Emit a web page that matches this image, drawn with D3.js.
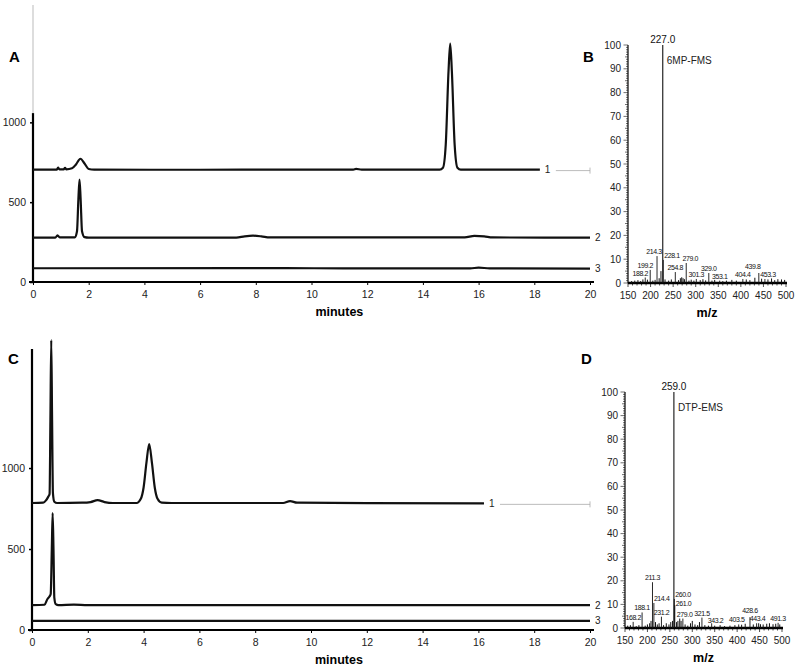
<!DOCTYPE html>
<html>
<head>
<meta charset="utf-8">
<script src="https://cdn.jsdelivr.net/npm/d3@7"></script>
<style>
  body { margin: 0; background: #fff; }
  text { font-family: "Liberation Sans", Arial, Helvetica, sans-serif; }
  .small { font-family: "Liberation Sans Narrow", "Liberation Sans", Arial, sans-serif; }
</style>
</head>
<body>
<svg id="fig" width="800" height="670"></svg>
<script>
// ---- chromatogram data: [minutes, response] ----
var timeTicks = d3.range(0, 21, 2);
var respTicks = [0, 500, 1000];

var traceA1 = [[0,704],[0.85,704],[0.9,716],[0.95,705],[1.1,706],[1.15,715],[1.2,706],[1.4,712],[1.55,738],[1.7,772],[1.85,742],[2.0,708],[2.2,704],
  [6,703],[9,704],[11.5,704],[11.6,709],[11.8,704],[14.6,704],[14.72,716],[14.82,860],[14.92,1320],[14.98,1494],[15.04,1320],[15.14,860],[15.24,716],[15.36,704],[18.2,704]];
var traceA2 = [[0,278],[0.8,278],[0.88,292],[0.96,279],[1.5,280],[1.58,318],[1.63,520],[1.67,642],[1.71,520],[1.76,318],[1.85,281],[2.0,278],
  [7.3,278],[7.6,286],[7.9,290],[8.2,286],[8.5,279],[15.5,280],[15.85,289],[16.2,286],[16.5,279],[20,278]];
var traceA3 = [[0,86],[7.5,87],[8.2,87],[12,85],[15.7,85],[16,90],[16.4,85],[20,84]];

var traceC1 = [[0,784],[0.4,786],[0.5,800],[0.58,822],[0.63,840],[0.66,1300],[0.69,1790],[0.72,1300],[0.75,845],[0.8,792],[0.9,784],
  [1.8,786],[2.1,790],[2.35,802],[2.6,790],[2.9,784],[3.75,784],[3.9,810],[4.0,880],[4.1,1030],[4.2,1148],[4.3,1030],[4.4,880],[4.5,810],[4.65,786],
  [5,784],[9.0,784],[9.25,796],[9.5,786],[12,783],[16.2,782]];
var traceC2 = [[0,154],[0.45,156],[0.55,190],[0.62,205],[0.67,222],[0.71,500],[0.74,722],[0.77,500],[0.8,200],[0.85,160],[0.95,154],[1.5,157],[2,154],[20,154]];
var traceC3 = [[0,56],[20,56]];

// ---- mass spectra: labelled peaks [m/z, rel. intensity] ----
var mzTicks = d3.range(150, 501, 50);
var intensityTicks = d3.range(0, 101, 10);

var peaksB = [[227.0,100],[214.3,11.3],[228.1,9.7],[199.2,5.5],[188.2,2.3],[254.8,4.6],[279.0,8.4],[301.3,1.7],[329.0,4.2],[353.1,1.0],[404.4,1.7],[439.8,4.2],[453.3,1.7]];
var noiseB = [[158,0.8],[165,1],[172,1.2],[178,0.8],[183,1.5],[193,1.4],[205,1],[210,1.3],[219,2],[223,5],[232,1.5],[240,1],[246,1.5],[262,1.2],[266,2],[269,2.4],[272,2],[275,1.6],
  [285,1],[290,1.4],[296,1],[310,1.2],[316,1.6],[322,1.1],[336,1],[342,1.3],[360,0.8],[368,1],[380,1.3],[390,1],[412,1.5],[420,1.2],[431,2.2],[446,1.8],[460,1.5],[468,1.9],[475,1.2],[482,1.6],[490,1.5],[497,1.3]];

var peaksD = [[259.0,100],[211.3,19.4],[214.4,10.6],[231.2,4.8],[188.1,6.6],[168.2,2.6],[260.0,12.3],[261.0,9.7],[279.0,4],[321.5,4.4],[343.2,2],[403.5,1.5],[428.6,4.6],[443.4,2],[491.3,2.2]];
var noiseD = [[156,1],[162,1.2],[175,0.8],[181,1.2],[195,1],[200,1.5],[205,2],[208,3],[218,2.5],[222,1.5],[226,2],[236,1.2],[242,2],[248,1.5],[252,2.5],[256,3],[265,2.5],[268,3],[272,4],[275,3],[284,1.5],
  [290,1],[296,2],[300,3],[306,1.5],[312,1.2],[316,2.5],[328,1.2],[336,1],[350,1],[362,1.2],[372,0.8],[384,1],[395,1.2],[410,1.4],[418,1.8],[436,1.5],[448,2],[452,1.6],[458,1.5],[466,1.8],[472,2],[480,1.6],[486,1.8],[495,1.5]];

var svg = d3.select("#fig");

function drawChrom(opt) {
  var x = d3.scaleLinear().domain([0, 20]).range(opt.xr);
  var y = d3.scaleLinear().domain([0, 1735]).range(opt.yr);
  var g = svg.append("g");

  // y axis
  var ya = g.append("g").attr("transform", "translate(" + x(0) + ",0)")
    .call(d3.axisLeft(y).tickValues(respTicks).tickFormat(d3.format("d")).tickSize(3).tickPadding(4));
  ya.select(".domain").remove();
  ya.selectAll("text").attr("font-size", 10.5).attr("fill", "#222");
  ya.selectAll("line").attr("stroke-width", 1.5);
  g.append("line").attr("x1", x(0)).attr("x2", x(0)).attr("y1", y(0)).attr("y2", y(opt.axisTop))
    .attr("stroke", "#000").attr("stroke-width", 2.2);
  if (opt.axisTop < 1735)
    g.append("line").attr("x1", x(0)).attr("x2", x(0)).attr("y1", y(opt.axisTop)).attr("y2", y(1735))
      .attr("stroke", "#bbb").attr("stroke-width", 1);

  // x axis
  var xa = g.append("g").attr("transform", "translate(0," + y(0) + ")")
    .call(d3.axisBottom(x).tickValues(timeTicks).tickSize(3).tickPadding(6));
  xa.select(".domain").remove();
  xa.selectAll("text").attr("font-size", 10.5).attr("fill", "#222");
  g.append("line").attr("x1", x(0) - 4).attr("x2", x(20) + 4).attr("y1", y(0)).attr("y2", y(0))
    .attr("stroke", "#000").attr("stroke-width", 2.2);

  g.append("text").attr("x", (x(10) + x(12)) / 2).attr("y", y(0) + 34).attr("text-anchor", "middle")
    .attr("font-weight", "bold").attr("font-size", 12.5).text("minutes");
  g.append("text").attr("x", opt.letterX).attr("y", opt.letterY).attr("font-weight", "bold")
    .attr("font-size", 15).text(opt.letter);

  var line = d3.line().x(function(d) { return x(d[0]); }).y(function(d) { return y(d[1]); })
    .curve(d3.curveMonotoneX);

  opt.traces.forEach(function(tr, i) {
    g.append("path").attr("d", line(tr)).attr("fill", "none").attr("stroke", "#111")
      .attr("stroke-width", 2.2).attr("stroke-linejoin", "round");
    var last = tr[tr.length - 1];
    g.append("text").attr("x", x(last[0]) + 5).attr("y", y(last[1]) + 3.5)
      .attr("font-size", 10).attr("fill", "#222").text(i + 1);
    if (last[0] < 20) {
      g.append("line").attr("x1", x(last[0]) + 16).attr("x2", x(20)).attr("y1", y(last[1]) + 1).attr("y2", y(last[1]) + 1)
        .attr("stroke", "#aaa").attr("stroke-width", 0.8);
      g.append("line").attr("x1", x(20)).attr("x2", x(20)).attr("y1", y(last[1]) - 2).attr("y2", y(last[1]) + 4)
        .attr("stroke", "#aaa").attr("stroke-width", 0.8);
    }
  });
}

function drawSpec(opt) {
  var x = d3.scaleLinear().domain([150, 500]).range(opt.xr);
  var y = d3.scaleLinear().domain([0, 100]).range(opt.yr);
  var g = svg.append("g");

  // ruler-like y axis
  g.selectAll(".ym").data(d3.range(0, 101, 1)).enter().append("line")
    .attr("x1", x(150)).attr("x2", function(d) { return x(150) - (d % 10 === 0 ? 4.5 : d % 5 === 0 ? 3 : 2); })
    .attr("y1", function(d) { return y(d); }).attr("y2", function(d) { return y(d); })
    .attr("stroke", "#333").attr("stroke-width", 0.7);
  g.append("line").attr("x1", x(150)).attr("x2", x(150)).attr("y1", y(0)).attr("y2", y(100))
    .attr("stroke", "#000").attr("stroke-width", 1.2);
  g.selectAll(".yl").data(intensityTicks).enter().append("text")
    .attr("x", x(150) - 7).attr("y", function(d) { return y(d) + 3.5; }).attr("text-anchor", "end")
    .attr("font-size", 10).attr("fill", "#222").text(function(d) { return d; });

  // x axis
  g.selectAll(".xm").data(d3.range(150, 501, 10)).enter().append("line")
    .attr("x1", function(d) { return x(d); }).attr("x2", function(d) { return x(d); })
    .attr("y1", y(0)).attr("y2", function(d) { return y(0) + (d % 50 === 0 ? 4 : 2.5); })
    .attr("stroke", "#222").attr("stroke-width", 0.8);
  g.append("line").attr("x1", x(150)).attr("x2", x(500) + 1).attr("y1", y(0)).attr("y2", y(0))
    .attr("stroke", "#000").attr("stroke-width", 2.4);
  g.selectAll(".xl").data(mzTicks).enter().append("text")
    .attr("x", function(d) { return x(d); }).attr("y", y(0) + 16).attr("text-anchor", "middle")
    .attr("font-size", 10).attr("fill", "#222").text(function(d) { return d; });
  g.append("text").attr("x", (x(150) + x(500)) / 2).attr("y", y(0) + 34).attr("text-anchor", "middle")
    .attr("font-weight", "bold").attr("font-size", 12.5).text("m/z");

  // noise + peaks
  g.selectAll(".nz").data(opt.noise).enter().append("line")
    .attr("x1", function(d) { return x(d[0]); }).attr("x2", function(d) { return x(d[0]); })
    .attr("y1", y(0)).attr("y2", function(d) { return y(d[1]); })
    .attr("stroke", "#111").attr("stroke-width", 1);
  g.selectAll(".pk").data(opt.peaks).enter().append("line")
    .attr("x1", function(d) { return x(d[0]); }).attr("x2", function(d) { return x(d[0]); })
    .attr("y1", y(0)).attr("y2", function(d) { return y(d[1]); })
    .attr("stroke", "#111").attr("stroke-width", function(d) { return d[1] >= 100 ? 1.1 : 0.9; });
  g.selectAll(".pl").data(opt.peaks).enter().append("text")
    .attr("class", function(d) { return d[1] >= 100 ? null : "small"; })
    .attr("x", function(d) { var n = opt.nudge[d[0].toFixed(1)]; return x(d[0]) + (n ? n[0] : 0); })
    .attr("y", function(d) { var n = opt.nudge[d[0].toFixed(1)]; return y(d[1]) - 2 + (n ? n[1] : 0); })
    .attr("text-anchor", function(d) { var n = opt.nudge[d[0].toFixed(1)]; return n && n[2] ? n[2] : "middle"; })
    .attr("font-size", function(d) { return d[1] >= 100 ? 10 : 7; })
    .attr("letter-spacing", function(d) { return d[1] >= 100 ? 0 : -0.4; })
    .attr("fill", "#111")
    .text(function(d) { return d[0].toFixed(1); });

  g.append("text").attr("x", x(opt.nameAt) + 4).attr("y", y(92) ).attr("font-size", 10).attr("fill", "#222").text(opt.name);
  g.append("text").attr("x", opt.letterX).attr("y", opt.letterY).attr("font-weight", "bold")
    .attr("font-size", 15).text(opt.letter);
}

drawChrom({ xr: [33, 590], yr: [282, 5], axisTop: 1058, traces: [traceA1, traceA2, traceA3], letter: "A", letterX: 9, letterY: 62 });
drawChrom({ xr: [32, 590], yr: [630, 349], axisTop: 1735, traces: [traceC1, traceC2, traceC3], letter: "C", letterX: 8, letterY: 364 });

drawSpec({ xr: [628, 786], yr: [283, 45], peaks: peaksB, noise: noiseB, name: "6MP-FMS", nameAt: 227.0,
  nudge: { "214.3": [-3, 0], "228.1": [1, 0, "start"], "199.2": [-5, 0], "188.2": [-5, 0], "279.0": [4, 0], "439.8": [-6, -2], "453.3": [3, 0] },
  letter: "B", letterX: 583, letterY: 62 });
drawSpec({ xr: [625, 782], yr: [628, 392], peaks: peaksD, noise: noiseD, name: "DTP-EMS", nameAt: 259.0,
  nudge: { "214.4": [0, 0, "start"], "260.0": [1, 0, "start"], "261.0": [1, 3, "start"], "279.0": [-6, 0, "start"], "343.2": [-4, 2, "start"],
           "428.6": [0, -2], "403.5": [-2, 0], "443.4": [1, 0] },
  letter: "D", letterX: 581, letterY: 364 });
</script>
</body>
</html>
